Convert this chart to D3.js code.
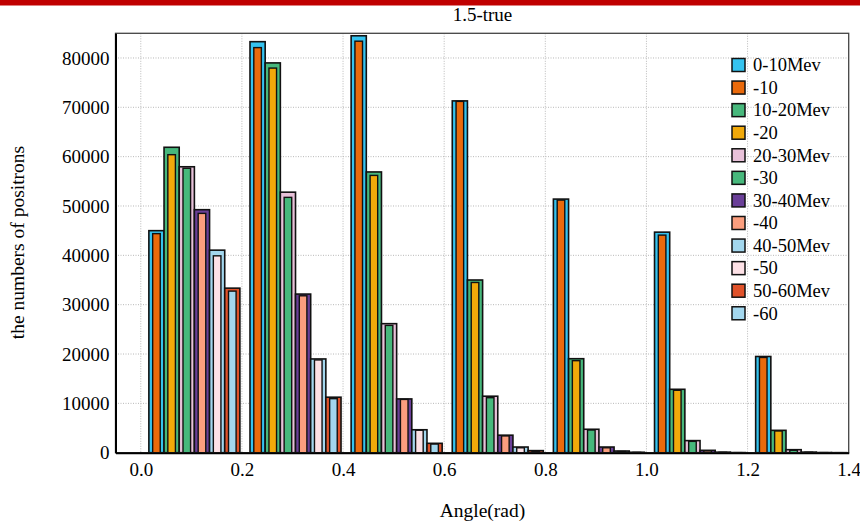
<!DOCTYPE html>
<html>
<head>
<meta charset="utf-8">
<script src="https://cdn.jsdelivr.net/npm/d3@7"></script>
<style>
  html, body { margin: 0; padding: 0; background: #fff; }
  svg { display: block; }
  text { font-family: "Liberation Serif", "Times New Roman", serif; fill: #000; }
</style>
</head>
<body>
<svg id="chart" width="860" height="525"></svg>
<script>
// ---------- data ----------
const binStarts = [0.0, 0.2, 0.4, 0.6, 0.8, 1.0, 1.2];
const seriesNames = ["0-10Mev", "-10", "10-20Mev", "-20", "20-30Mev", "-30",
                     "30-40Mev", "-40", "40-50Mev", "-50", "50-60Mev", "-60"];
const seriesColors = ["#35c3ef", "#ea6a0c", "#47b87c", "#f1a90a", "#e8c1d9", "#47b87c",
                      "#6a3f98", "#fb9e7e", "#a3d7ee", "#fde1e6", "#e0522a", "#a3d7ee"];
const s0_10   = [45000, 83300, 84500, 71300, 51400, 44700, 19500];
const s_10    = [44400, 82100, 83400, 71200, 51200, 44100, 19300];
const s10_20  = [61900, 79000, 56900, 35000, 19050, 12850, 4530];
const s_20    = [60400, 77950, 56200, 34500, 18650, 12650, 4400];
const s20_30  = [57950, 52800, 26150, 11450, 4750, 2450, 610];
const s_30    = [57650, 51750, 25800, 11150, 4600, 2300, 480];
const s30_40  = [49250, 32150, 10900, 3550, 1150, 480, 120];
const s_40    = [48500, 31800, 10800, 3400, 1000, 350, 90];
const s40_50  = [41050, 19000, 4650, 1150, 340, 110, 30];
const s_50    = [39900, 18800, 4550, 1000, 250, 80, 20];
const s50_60  = [33350, 11250, 1900, 420, 90, 25, 8];
const s_60    = [32750, 10950, 1750, 280, 60, 15, 5];
const seriesValues = [s0_10, s_10, s10_20, s_20, s20_30, s_30,
                      s30_40, s_40, s40_50, s_50, s50_60, s_60];
const xTicks = [0.0, 0.2, 0.4, 0.6, 0.8, 1.0, 1.2, 1.4];
const yTicks = [0, 10000, 20000, 30000, 40000, 50000, 60000, 70000, 80000];
const title = "1.5-true";
const xLabel = "Angle(rad)";
const yLabel = "the numbers of positrons";

// ---------- layout ----------
const binWidth = 0.2;
const L = 115.5, R = 848.7, T = 33.3, B = 452.7;
const svg = d3.select("#chart");

const x = d3.scaleLinear().domain([-0.05, 1.4]).range([L, R]);
const y = d3.scaleLinear().domain([0, 85000]).range([B, T]);

// top red band
svg.append("rect").attr("x", 0).attr("y", 0).attr("width", 860).attr("height", 5.5).attr("fill", "#c00000");

// title
svg.append("text").attr("x", 482.5).attr("y", 20.5).attr("text-anchor", "middle")
  .style("font-size", "19px").text(title);

// grid
const grid = svg.append("g");
grid.selectAll("line.vx").data(xTicks.filter(t => t < 1.39)).join("line")
  .attr("x1", d => x(d)).attr("x2", d => x(d)).attr("y1", T).attr("y2", B)
  .attr("stroke", "#b8b8b8").attr("stroke-width", 1).attr("stroke-dasharray", "1,1.5");
grid.selectAll("line.hy").data(yTicks.filter(t => t > 0)).join("line")
  .attr("x1", L).attr("x2", R).attr("y1", d => y(d)).attr("y2", d => y(d))
  .attr("stroke", "#b8b8b8").attr("stroke-width", 1).attr("stroke-dasharray", "1,1.5");

// bars
const bars = svg.append("g");
const pairs = d3.range(6);
pairs.forEach(k => {
  const wideIdx = 2 * k, innerIdx = 2 * k + 1;
  const off = binWidth * (0.08 + 0.15 * k);
  const wW = binWidth * 0.15, iW = binWidth * 0.075;
  bars.append("g").selectAll("rect").data(seriesValues[wideIdx]).join("rect")
    .attr("x", (d, i) => x(binStarts[i] + off))
    .attr("width", (d, i) => x(binStarts[i] + off + wW) - x(binStarts[i] + off))
    .attr("y", d => y(d)).attr("height", d => B - y(d))
    .attr("fill", seriesColors[wideIdx]).attr("stroke", "#111").attr("stroke-width", 1.6);
  bars.append("g").selectAll("rect").data(seriesValues[innerIdx]).join("rect")
    .attr("x", (d, i) => x(binStarts[i] + off + (wW - iW) / 2))
    .attr("width", (d, i) => x(binStarts[i] + off + (wW + iW) / 2) - x(binStarts[i] + off + (wW - iW) / 2))
    .attr("y", d => y(d)).attr("height", d => B - y(d))
    .attr("fill", seriesColors[innerIdx]).attr("stroke", "#111").attr("stroke-width", 1.4);
});

// frame
svg.append("rect").attr("x", L).attr("y", T).attr("width", R - L).attr("height", B - T)
  .attr("fill", "none").attr("stroke", "#444").attr("stroke-width", 1.3);

// axes
const xAxis = svg.append("g").attr("transform", `translate(0,${B})`)
  .call(d3.axisBottom(x).tickValues(xTicks).tickFormat(d3.format(".1f")).tickSize(0).tickPadding(10));
xAxis.select(".domain").attr("stroke", "#000").attr("stroke-width", 2);
xAxis.selectAll("text").style("font-size", "19px").attr("font-family", null);

const yAxis = svg.append("g").attr("transform", `translate(${L},0)`)
  .call(d3.axisLeft(y).tickValues(yTicks).tickFormat(d3.format("d")).tickSize(0).tickPadding(6));
yAxis.select(".domain").attr("stroke", "#000").attr("stroke-width", 2);
yAxis.selectAll("text").style("font-size", "19px").attr("font-family", null);

// axis labels
svg.append("text").attr("x", 482.5).attr("y", 516.5).attr("text-anchor", "middle")
  .style("font-size", "19.5px").text(xLabel);
svg.append("text").attr("transform", "translate(24,242.5) rotate(-90)").attr("text-anchor", "middle")
  .style("font-size", "19.5px").text(yLabel);

// legend
const leg = svg.append("g");
seriesNames.forEach((name, i) => {
  const cy = 65 + i * 22.57;
  leg.append("rect").attr("x", 732).attr("y", cy - 6.5).attr("width", 13).attr("height", 13)
    .attr("fill", seriesColors[i]).attr("stroke", "#111").attr("stroke-width", 1.5);
  leg.append("text").attr("x", 753).attr("y", cy + 6.3).style("font-size", "18.5px").text(name);
});
</script>
</body>
</html>
